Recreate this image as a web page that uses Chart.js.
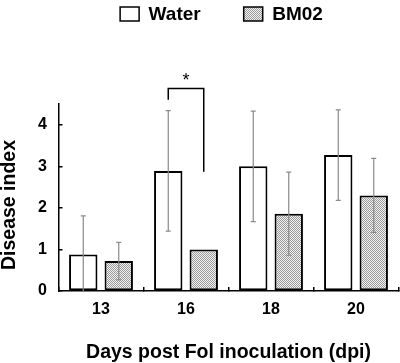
<!DOCTYPE html>
<html><head><meta charset="utf-8">
<script src="https://cdn.jsdelivr.net/npm/chart.js@4.4.1/dist/chart.umd.min.js"></script>
<style>html,body{margin:0;padding:0;background:#fff}#wrap{width:400px;height:363px}</style>
</head><body><div id="wrap"><canvas id="c" width="400" height="363"></canvas></div>
<script>
// ---- data ----
const categories = ['13', '16', '18', '20'];
const seriesNames = ['Water', 'BM02'];
const waterMeans = [0.88, 2.89, 3.00, 3.27];
const waterErr   = [0.93, 1.45, 1.33, 1.09];
const bm02Means  = [0.72, 1.00, 1.86, 2.30];
const bm02Err    = [0.45, 0.00, 1.00, 0.89];
const yTicks = [0, 1, 2, 3, 4];
const yTitle = 'Disease index';
const xTitle = 'Days post Fol inoculation (dpi)';
const sigCategory = 1;
const sigLabel = '*';
const sigTop = 4.87, sigLeftEnd = 4.60, sigRightEnd = 2.87;

const FONT = '"Liberation Sans", Arial, Helvetica, sans-serif';

function makePattern() {
  const p = document.createElement('canvas');
  p.width = 2; p.height = 2;
  const g = p.getContext('2d');
  g.fillStyle = '#f2f2f2'; g.fillRect(0, 0, 2, 2);
  g.fillStyle = '#9a9a9a'; g.fillRect(0, 0, 1, 1); g.fillRect(1, 1, 1, 1);
  return document.createElement('canvas').getContext('2d').createPattern(p, 'repeat');
}
const pattern = makePattern();

const extras = {
  id: 'extras',
  afterDatasetsDraw(chart) {
    const ctx = chart.ctx, ys = chart.scales.y;
    const errs = [waterErr, bm02Err];
    chart.data.datasets.forEach((ds, di) => {
      const meta = chart.getDatasetMeta(di);
      meta.data.forEach((bar, i) => {
        const e = errs[di][i];
        if (!e) return;
        const v = ds.data[i];
        const yt = ys.getPixelForValue(v + e);
        const yb = ys.getPixelForValue(Math.max(0, v - e));
        ctx.save();
        ctx.strokeStyle = '#8a8a8a'; ctx.lineWidth = 1.2;
        ctx.beginPath();
        ctx.moveTo(bar.x, yt); ctx.lineTo(bar.x, yb);
        ctx.moveTo(bar.x - 2.5, yt); ctx.lineTo(bar.x + 2.5, yt);
        if (v - e > 0) { ctx.moveTo(bar.x - 2.5, yb); ctx.lineTo(bar.x + 2.5, yb); }
        ctx.stroke(); ctx.restore();
      });
    });
    // significance bracket
    const xl = chart.getDatasetMeta(0).data[sigCategory].x;
    const xr = chart.getDatasetMeta(1).data[sigCategory].x;
    const yTop = ys.getPixelForValue(sigTop);
    ctx.save();
    ctx.strokeStyle = '#000'; ctx.lineWidth = 1.5;
    ctx.beginPath();
    ctx.moveTo(xl, ys.getPixelForValue(sigLeftEnd));
    ctx.lineTo(xl, yTop); ctx.lineTo(xr, yTop);
    ctx.lineTo(xr, ys.getPixelForValue(sigRightEnd));
    ctx.stroke();
    ctx.fillStyle = '#000';
    ctx.font = '18px ' + FONT;
    ctx.textAlign = 'center'; ctx.textBaseline = 'middle';
    ctx.fillText(sigLabel, (xl + xr) / 2, yTop - 8);
    ctx.restore();
  },
  afterDraw(chart) {
    const ctx = chart.ctx;
    ctx.save();
    // y-axis title
    ctx.font = 'bold 19.5px ' + FONT;
    ctx.fillStyle = '#000';
    ctx.translate(10, 205);
    ctx.rotate(-Math.PI / 2);
    ctx.textAlign = 'center'; ctx.textBaseline = 'middle';
    ctx.fillText(yTitle, 0, 0);
    ctx.restore();
    // legend
    ctx.save();
    ctx.font = 'bold 19px ' + FONT;
    const boxW = 19, boxH = 14, gapText = 9.5, gapItem = 43;
    const widths = chart.data.datasets.map(d => boxW + gapText + ctx.measureText(d.label).width);
    const total = widths.reduce((a, b) => a + b, 0) + gapItem * (widths.length - 1);
    let x = 221.5 - total / 2;
    const yc = 14;
    chart.data.datasets.forEach((d, i) => {
      ctx.fillStyle = d.backgroundColor;
      ctx.fillRect(x, yc - boxH / 2, boxW, boxH);
      ctx.strokeStyle = '#000'; ctx.lineWidth = 1.5;
      ctx.strokeRect(x, yc - boxH / 2, boxW, boxH);
      ctx.fillStyle = '#000';
      ctx.textAlign = 'left'; ctx.textBaseline = 'middle';
      ctx.fillText(d.label, x + boxW + gapText, yc + 1);
      x += widths[i] + gapItem;
    });
    ctx.restore();
  }
};

new Chart(document.getElementById('c'), {
  type: 'bar',
  data: {
    labels: categories,
    datasets: [
      { label: seriesNames[0], data: waterMeans, backgroundColor: '#ffffff', borderColor: '#000', borderWidth: 2, borderSkipped: false },
      { label: seriesNames[1], data: bm02Means, backgroundColor: pattern, borderColor: '#000', borderWidth: 2, borderSkipped: false }
    ]
  },
  options: {
    responsive: false,
    animation: false,
    devicePixelRatio: 1,
    categoryPercentage: 0.835,
    barPercentage: 0.80,
    layout: { padding: { top: 104, right: 1.5, left: 0, bottom: 0 } },
    plugins: { legend: { display: false }, tooltip: { enabled: false } },
    scales: {
      x: {
        grid: { display: true, drawOnChartArea: false, drawTicks: true, tickLength: -4, color: '#000', lineWidth: 1.5 },
        border: { display: true, color: '#000', width: 1.5 },
        ticks: { color: '#000', font: { family: FONT, size: 16, weight: 'bold' }, padding: 13 },
        title: { display: true, text: xTitle, color: '#000', font: { family: FONT, size: 19.5, weight: 'bold', lineHeight: 1 }, padding: { top: 0, bottom: 0.5 } },
        afterFit(s) { s.height = 72; }
      },
      y: {
        min: 0, max: 4.5,
        afterBuildTicks(s) { s.ticks = yTicks.map(v => ({ value: v })); },
        grid: { display: true, drawOnChartArea: false, drawTicks: true, tickLength: -4, color: '#000', lineWidth: 1.5 },
        border: { display: true, color: '#000', width: 1.5 },
        ticks: { color: '#000', font: { family: FONT, size: 16, weight: 'bold' }, padding: 15.5 },
        title: { display: false },
        afterFit(s) { s.width = 58.5; }
      }
    }
  },
  plugins: [extras]
});
</script></body></html>
